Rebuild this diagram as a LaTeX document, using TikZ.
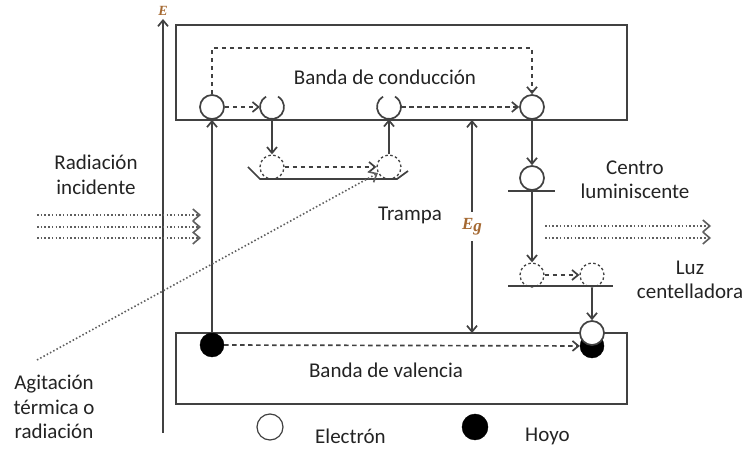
\documentclass[tikz,border=0pt]{standalone}
\usepackage{fontspec}
\setmainfont{Carlito}
\newfontfamily\egfont{Liberation Serif}
\usetikzlibrary{arrows.meta}
\definecolor{ink}{RGB}{65,65,65}
\definecolor{txt}{RGB}{35,35,35}
\definecolor{egc}{RGB}{165,105,50}
\begin{document}
\begin{tikzpicture}[x=1pt,y=1pt,
  ln/.style={draw=ink,line width=1.7pt},
  arr/.style={-{Straight Barb[length=6pt,width=10pt]}},
  darr/.style={{Straight Barb[length=6pt,width=10pt]}-{Straight Barb[length=6pt,width=10pt]}},
  barr/.style={-{Straight Barb[length=7pt,width=12pt,line width=1.6pt]}},
  dsh/.style={dash pattern=on 4.5pt off 3.5pt},
  dotl/.style={dash pattern=on 1.5pt off 2.2pt, line width=1.6pt, draw=ink!85},
  elec/.style={circle,minimum size=24pt,inner sep=0pt,ln,fill=white},
  hole/.style={circle,minimum size=24pt,inner sep=0pt,fill=black,draw=black},
  dcirc/.style={circle,minimum size=24pt,inner sep=0pt,draw=ink,line width=1.3pt,dash pattern=on 2.5pt off 2.5pt},
  pcirc/.style={circle,minimum size=24pt,inner sep=0pt},
  lbl/.style={text=txt,font=\fontsize{21}{24.5}\selectfont,align=center,inner sep=0pt},
  eg/.style={text=egc,font=\egfont\bfseries\itshape\fontsize{17}{17}\selectfont}
]
\useasboundingbox (0,0) rectangle (747,449);

% energy axis
\coordinate (ebot) at (163,16);
\coordinate (etop) at (163,430);
\draw[ln,arr] (ebot) -- (etop);
\node[eg,font=\egfont\bfseries\itshape\fontsize{14}{14}\selectfont] (elabel) at (163,438) {E};

% bands
\draw[ln] (176,329) rectangle (627,424);
\draw[ln] (176,45) rectangle (627,116);
\node[lbl] (cbl) at (385,372) {Banda de conducción};
\node[lbl] (vbl) at (386,79) {Banda de valencia};

% circles in conduction band
\node[elec] (c1) at (212,342) {};
\node[pcirc] (c2) at (272,342) {};
\node[pcirc] (c3) at (389,342) {};
\node[elec] (c4) at (532,342) {};
\draw[ln] ([shift={(120:12)}]c2.center) arc[start angle=120,end angle=420,radius=12];
\draw[ln] ([shift={(120:12)}]c3.center) arc[start angle=120,end angle=420,radius=12];

% trap
\node[dcirc] (t1) at (272,282) {};
\node[dcirc] (t2) at (389,282) {};
\draw[ln] (248,282) -- (260,270) -- (397,270) -- (408,278);
\node[lbl] (trampa) at (410,234) {Trampa};

% hole in valence band
\node[hole] (h) at (212,104) {};

% luminescent centre
\node[elec] (lc) at (532,271) {};
\draw[ln] (508,258) -- (555,258);
\node[dcirc] (d3) at (532,174) {};
\node[dcirc] (d4) at (592,174) {};
\draw[ln] (508,163) -- (613,163);
\node[hole] (bh) at (592,103) {};
\node[elec] (eh) at (592,116) {};

% transitions
\coordinate (looptop) at (0,401);
\draw[ln,dsh,arr] (c1.north) -- (c1.north |- looptop) -| (c4.north);
\draw[ln,dsh,arr] (c1) -- (c2);
\draw[ln,dsh,arr] (c3) -- (c4);
\draw[ln,arr] (c2) -- (t1);
\draw[ln,dsh,arr] (t1) -- (t2);
\draw[ln,arr] (t2) -- (c3);
\draw[ln,arr] (h) -- (c1);
\draw[ln,dsh,arr] (h) -- (bh);
\draw[ln,arr] (c4) -- (lc);
\draw[ln,arr] (lc.south) -- (d3);
\draw[ln,dsh,arr] (d3) -- (d4);
\draw[ln,arr] (d4) -- (eh);

% band gap
\coordinate (egt) at (472,329);
\coordinate (egb) at (472,116);
\draw[ln,darr] (egb) -- node[eg,fill=white,inner xsep=1pt,inner ysep=6pt] (eglabel) {E\raisebox{-2pt}{g}} (egt);

% agitation
\coordinate (ag) at (37,89);
\draw[dotl,barr] (ag) -- (t2);
\node[lbl] (agl) at (54,42) {Agitación\\térmica o\\radiación};

% incident radiation
\coordinate (r1s) at (37,234); \coordinate (r1e) at (201,234);
\coordinate (r2s) at (37,222); \coordinate (r2e) at (201,222);
\coordinate (r3s) at (37,211); \coordinate (r3e) at (201,211);
\draw[dotl,barr] (r1s) -- (r1e);
\draw[dotl,barr] (r2s) -- (r2e);
\draw[dotl,barr] (r3s) -- (r3e);
\node[lbl] (radl) at (96,274) {Radiación\\incidente};

% scintillation light
\coordinate (l1s) at (545,223); \coordinate (l1e) at (711,223);
\coordinate (l2s) at (545,211); \coordinate (l2e) at (711,211);
\draw[dotl,barr] (l1s) -- (l1e);
\draw[dotl,barr] (l2s) -- (l2e);
\node[lbl] (cl) at (635,269) {Centro\\luminiscente};
\node[lbl] (ll) at (690,169) {Luz\\centelladora};

% legend
\node[elec,minimum size=26pt,line width=1.2pt] (le) at (270,22) {};
\node[lbl,anchor=base west] (let) at (315,5) {Electrón};
\node[hole,minimum size=26pt] (lh) at (475,22) {};
\node[lbl,anchor=base west] (lht) at (525,7) {Hoyo};
\end{tikzpicture}
\end{document}
